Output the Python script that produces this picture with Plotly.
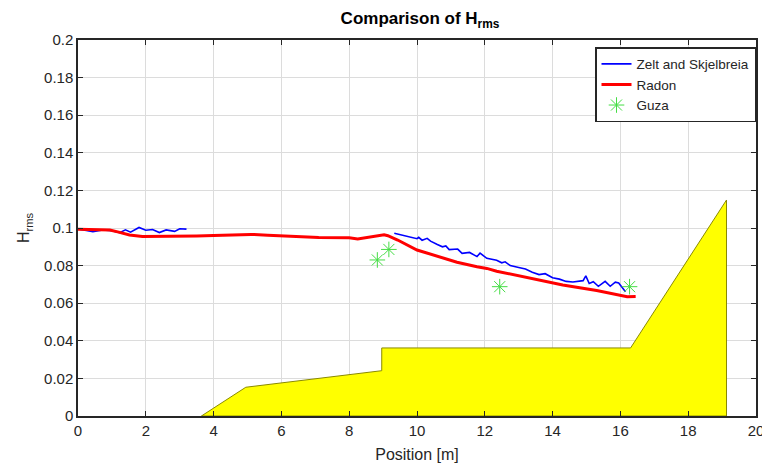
import plotly.graph_objects as go

# Zelt and Skjelbreia (two segments)
zelt1_x = [0.0, 0.2, 0.44, 0.73, 1.0, 1.23, 1.4, 1.55, 1.8, 2.0, 2.2, 2.4, 2.6, 2.85, 3.0, 3.2]
zelt1_y = [0.0995, 0.0990, 0.0980, 0.0990, 0.0985, 0.0975, 0.0990, 0.0978, 0.1003, 0.0988,
           0.0992, 0.0976, 0.0990, 0.0982, 0.0996, 0.0994]
zelt2_x = [9.33, 9.5, 9.72, 9.9, 10.0, 10.05, 10.15, 10.3, 10.4, 10.6, 10.75, 10.85, 10.95,
           11.2, 11.33, 11.55, 11.77, 11.86, 12.06, 12.35, 12.5, 12.6, 12.75, 13.0, 13.2, 13.4,
           13.6, 13.78, 14.0, 14.2, 14.4, 14.6, 14.75, 14.9, 14.98, 15.08, 15.2, 15.35, 15.55,
           15.7, 15.85, 15.95, 16.15]
zelt2_y = [0.0972, 0.0965, 0.0955, 0.0948, 0.0943, 0.0950, 0.0935, 0.0945, 0.0930, 0.0912,
           0.0900, 0.0905, 0.0885, 0.0888, 0.0865, 0.0870, 0.0848, 0.0866, 0.0839, 0.0828,
           0.0815, 0.0820, 0.0800, 0.0790, 0.0782, 0.0765, 0.0752, 0.0757, 0.0735, 0.0728,
           0.0716, 0.0713, 0.0715, 0.0720, 0.0745, 0.0705, 0.0714, 0.0690, 0.0716, 0.0690,
           0.0712, 0.0708, 0.0661]

# Radon
radon_x = [0.0, 0.5, 0.94, 1.2, 1.52, 1.9, 2.5, 3.0, 3.5, 4.0, 4.5, 5.1, 5.6, 6.0, 6.6, 7.1,
           7.57, 8.0, 8.25, 8.6, 9.03, 9.14, 9.43, 10.0, 10.6, 11.18, 11.77, 12.06, 12.35,
           12.65, 13.3, 14.3, 15.3, 15.95, 16.2, 16.45]
radon_y = [0.0993, 0.0990, 0.0989, 0.0978, 0.0963, 0.0955, 0.0955, 0.0954, 0.0958, 0.0960,
           0.0963, 0.0966, 0.0962, 0.0960, 0.0954, 0.0950, 0.0951, 0.0948, 0.0942, 0.0952,
           0.0964, 0.0959, 0.0936, 0.0883, 0.0848, 0.0818, 0.0794, 0.0785, 0.0770, 0.0759,
           0.0732, 0.0697, 0.0667, 0.0644, 0.0634, 0.0635]

# Guza
guza_x = [8.83, 9.17, 12.44, 16.27]
guza_y = [0.0830, 0.0886, 0.0688, 0.0688]

# Bathymetry
bed_x = [3.64, 4.95, 8.96, 8.96, 16.3, 19.13, 19.13, 3.64]
bed_y = [0.0, 0.0153, 0.0241, 0.0362, 0.0362, 0.1149, 0.0, 0.0]

x_ticks = [0, 2, 4, 6, 8, 10, 12, 14, 16, 18, 20]
x_ticktext = ["0", "2", "4", "6", "8", "10", "12", "14", "16", "18", "20"]
y_ticks = [0, 0.02, 0.04, 0.06, 0.08, 0.1, 0.12, 0.14, 0.16, 0.18, 0.2]
y_ticktext = ["0", "0.02", "0.04", "0.06", "0.08", "0.1", "0.12", "0.14", "0.16", "0.18", "0.2"]

FONT = "Liberation Sans, Arial, sans-serif"
AX = "#262626"
W, H = 762, 458  # page body adds an 8px offset

fig = go.Figure()
fig.add_trace(go.Scatter(x=bed_x, y=bed_y, mode="lines", fill="toself",
                         fillcolor="#FFFF00", line=dict(color="#8a8a00", width=1),
                         showlegend=False, hoverinfo="skip"))
fig.add_trace(go.Scatter(x=zelt1_x, y=zelt1_y, mode="lines", name="Zelt and Skjelbreia",
                         line=dict(color="#0000FF", width=1.6), legendgroup="z"))
fig.add_trace(go.Scatter(x=zelt2_x, y=zelt2_y, mode="lines", name="Zelt and Skjelbreia",
                         line=dict(color="#0000FF", width=1.6), legendgroup="z",
                         showlegend=False))
fig.add_trace(go.Scatter(x=radon_x, y=radon_y, mode="lines", name="Radon",
                         line=dict(color="#FF0000", width=3)))
fig.add_trace(go.Scatter(x=guza_x, y=guza_y, mode="markers", name="Guza",
                         marker=dict(symbol="asterisk-open", size=13, color="#44dd44",
                                     line=dict(color="#44dd44", width=1))))

axis_common = dict(showgrid=True, gridcolor="#dcdcdc", gridwidth=1,
                   showline=True, linecolor=AX, linewidth=1.5, mirror="ticks",
                   ticks="inside", ticklen=5, tickcolor=AX, zeroline=False,
                   tickfont=dict(family=FONT, size=15, color=AX), automargin=False,
                   ticklabeloverflow="allow")

fig.update_layout(
    width=W, height=H,
    margin=dict(l=70, r=14, t=32, b=50),
    paper_bgcolor="white", plot_bgcolor="white",
    font=dict(family=FONT, color=AX),
    title=dict(text="<b>Comparison of H<sub>rms</sub></b>", x=412 / W, xref="container",
               xanchor="center", y=1 - 10 / H, yanchor="middle",
               font=dict(family=FONT, size=17, color="#000000")),
    xaxis=dict(range=[0, 20], tickvals=x_ticks, ticktext=x_ticktext,
               title=dict(text="Position [m]", font=dict(family=FONT, size=16, color=AX),
                          standoff=11),
               **axis_common),
    yaxis=dict(range=[0, 0.2], tickvals=y_ticks, ticktext=y_ticktext,
               title=dict(text="H<sub>rms</sub>", font=dict(family=FONT, size=16, color=AX),
                          standoff=10),
               **axis_common),
    legend=dict(x=1.0, y=0.981, xanchor="right", yanchor="top",
                bordercolor=AX, borderwidth=1.5, bgcolor="white",
                font=dict(family=FONT, size=13.5, color=AX),
                tracegroupgap=0, itemwidth=30),
    showlegend=True,
)

fig.write_html("out.html")
